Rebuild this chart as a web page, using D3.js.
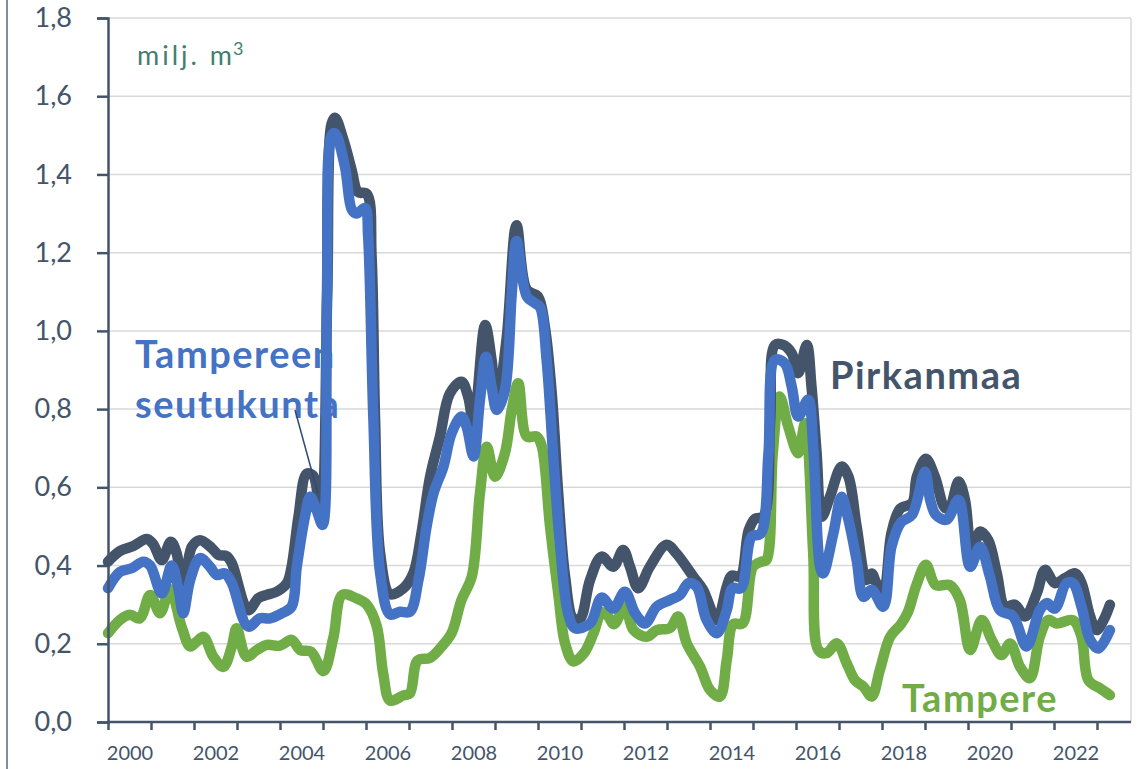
<!DOCTYPE html>
<html>
<head>
<meta charset="utf-8">
<title>Asuntokauppa Pirkanmaa</title>
<script src="https://d3js.org/d3.v7.min.js"></script>
<style>
  body { margin: 0; background: #fff; }
  svg { display: block; font-family: Lato, "Open Sans", sans-serif; }
</style>
</head>
<body>
<div id="chart"></div>
<script>
// values, [decimal year, milj. m3]
var pirkanmaa = [
  [2000.0,0.41],[2000.28,0.437],[2000.59,0.45],[2000.9,0.468],[2001.05,0.455],[2001.25,0.414],
  [2001.46,0.461],[2001.6,0.43],[2001.74,0.33],[2001.95,0.448],[2002.14,0.465],[2002.41,0.445],
  [2002.57,0.427],[2002.76,0.424],[2002.88,0.406],[2003.26,0.286],[2003.5,0.317],[2003.69,0.325],
  [2003.92,0.333],[2004.16,0.355],[2004.27,0.397],[2004.43,0.525],[2004.62,0.635],[2004.77,0.63],
  [2004.95,0.53],[2005.1,1.1],[2005.2,1.53],[2005.28,1.545],[2005.47,1.49],[2005.67,1.41],
  [2005.81,1.355],[2006.02,1.35],[2006.13,1.19],[2006.21,0.78],[2006.33,0.43],[2006.56,0.327],
  [2006.87,0.342],[2007.1,0.38],[2007.29,0.483],[2007.49,0.627],[2007.72,0.73],[2007.95,0.84],
  [2008.22,0.87],[2008.38,0.83],[2008.5,0.76],[2008.77,1.015],[2008.92,0.926],[2009.04,0.81],
  [2009.27,0.98],[2009.5,1.27],[2009.74,1.105],[2010.0,1.088],[2010.16,1.01],[2010.32,0.84],
  [2010.47,0.585],[2010.63,0.372],[2010.82,0.265],[2010.98,0.265],[2011.21,0.363],[2011.48,0.423],
  [2011.75,0.397],[2011.98,0.44],[2012.14,0.397],[2012.33,0.342],[2012.6,0.397],[2012.99,0.453],
  [2013.22,0.431],[2013.61,0.372],[2013.84,0.338],[2014.16,0.261],[2014.39,0.346],[2014.5,0.374],
  [2014.7,0.372],[2014.9,0.49],[2015.05,0.52],[2015.24,0.525],[2015.4,0.772],[2015.51,0.964],
  [2015.7,0.964],[2015.9,0.943],[2016.05,0.892],[2016.25,0.964],[2016.36,0.858],[2016.48,0.687],
  [2016.6,0.525],[2016.79,0.576],[2017.06,0.653],[2017.22,0.627],[2017.41,0.5],[2017.64,0.363],
  [2017.76,0.38],[2017.87,0.355],[2018.03,0.335],[2018.22,0.483],[2018.42,0.545],[2018.7,0.56],
  [2018.81,0.627],[2019.02,0.673],[2019.23,0.627],[2019.47,0.547],[2019.58,0.55],[2019.78,0.615],
  [2019.93,0.568],[2020.09,0.431],[2020.28,0.487],[2020.47,0.465],[2020.67,0.38],[2020.86,0.295],
  [2021.09,0.3],[2021.33,0.27],[2021.6,0.329],[2021.79,0.389],[2022.02,0.355],[2022.26,0.368],
  [2022.49,0.38],[2022.64,0.355],[2022.84,0.27],[2022.99,0.235],[2023.15,0.26],[2023.3,0.3]
];

var seutukunta = [
  [2000.0,0.342],[2000.28,0.384],[2000.55,0.393],[2000.82,0.41],[2000.98,0.4],[2001.25,0.329],
  [2001.48,0.4],[2001.64,0.34],[2001.75,0.278],[2001.91,0.363],[2002.14,0.419],[2002.37,0.397],
  [2002.53,0.376],[2002.72,0.38],[2002.88,0.355],[2003.26,0.244],[2003.53,0.265],[2003.77,0.265],
  [2004.04,0.278],[2004.27,0.295],[2004.39,0.397],[2004.58,0.525],[2004.7,0.576],[2004.85,0.542],
  [2004.99,0.504],[2005.09,1.086],[2005.2,1.5],[2005.28,1.505],[2005.51,1.42],[2005.67,1.31],
  [2005.78,1.3],[2005.98,1.314],[2006.05,1.24],[2006.17,0.78],[2006.33,0.38],[2006.56,0.275],
  [2006.79,0.282],[2007.02,0.282],[2007.22,0.363],[2007.41,0.5],[2007.57,0.585],[2007.8,0.653],
  [2007.99,0.738],[2008.22,0.781],[2008.34,0.755],[2008.5,0.679],[2008.65,0.824],[2008.79,0.934],
  [2008.92,0.858],[2009.04,0.798],[2009.23,0.849],[2009.39,1.096],[2009.5,1.23],[2009.74,1.088],
  [2009.93,1.071],[2010.05,1.06],[2010.2,0.926],[2010.36,0.67],[2010.51,0.457],[2010.7,0.278],
  [2010.86,0.24],[2011.21,0.252],[2011.48,0.318],[2011.75,0.29],[2012.02,0.333],[2012.26,0.278],
  [2012.49,0.252],[2012.76,0.295],[2013.07,0.312],[2013.3,0.325],[2013.5,0.355],[2013.69,0.346],
  [2013.92,0.261],[2014.16,0.227],[2014.39,0.286],[2014.52,0.342],[2014.72,0.342],[2014.97,0.474],
  [2015.18,0.482],[2015.36,0.687],[2015.51,0.926],[2015.74,0.917],[2015.9,0.858],[2016.05,0.781],
  [2016.28,0.824],[2016.4,0.704],[2016.56,0.397],[2016.63,0.38],[2016.87,0.483],[2017.06,0.576],
  [2017.22,0.517],[2017.41,0.414],[2017.57,0.32],[2017.76,0.338],[2018.03,0.295],[2018.22,0.448],
  [2018.44,0.51],[2018.7,0.53],[2019.0,0.64],[2019.12,0.568],[2019.25,0.53],[2019.5,0.517],
  [2019.78,0.568],[2020.05,0.397],[2020.28,0.448],[2020.51,0.372],[2020.74,0.286],[2021.05,0.27],
  [2021.36,0.193],[2021.67,0.286],[2021.83,0.304],[2022.02,0.29],[2022.29,0.355],[2022.44,0.355],
  [2022.64,0.295],[2022.84,0.21],[2023.03,0.188],[2023.3,0.235]
];

var tampere = [
  [2000.0,0.227],[2000.28,0.261],[2000.51,0.274],[2000.74,0.265],[2000.98,0.325],[2001.21,0.278],
  [2001.44,0.34],[2001.71,0.244],[2001.91,0.193],[2002.06,0.205],[2002.22,0.218],[2002.45,0.167],
  [2002.68,0.141],[2002.88,0.193],[2002.99,0.24],[2003.22,0.167],[2003.46,0.184],[2003.69,0.197],
  [2004.0,0.195],[2004.27,0.21],[2004.47,0.184],[2004.72,0.18],[2005.01,0.13],[2005.24,0.215],
  [2005.45,0.325],[2005.78,0.316],[2006.02,0.3],[2006.25,0.245],[2006.4,0.124],[2006.56,0.055],
  [2006.87,0.068],[2007.02,0.073],[2007.2,0.157],[2007.49,0.164],[2007.76,0.193],[2007.99,0.227],
  [2008.22,0.312],[2008.46,0.372],[2008.65,0.585],[2008.81,0.704],[2009.0,0.627],[2009.23,0.687],
  [2009.39,0.798],[2009.54,0.866],[2009.74,0.73],[2009.97,0.73],[2010.09,0.704],[2010.28,0.5],
  [2010.47,0.329],[2010.63,0.201],[2010.82,0.155],[2011.07,0.176],[2011.29,0.227],[2011.48,0.28],
  [2011.6,0.275],[2011.77,0.25],[2012.02,0.295],[2012.22,0.235],[2012.53,0.218],[2012.76,0.235],
  [2013.07,0.24],[2013.26,0.27],[2013.46,0.201],[2013.77,0.141],[2014.0,0.082],[2014.23,0.065],
  [2014.39,0.159],[2014.54,0.25],[2014.76,0.252],[2015.0,0.397],[2015.2,0.41],[2015.31,0.414],
  [2015.46,0.687],[2015.62,0.832],[2015.82,0.755],[2016.05,0.687],[2016.21,0.764],[2016.4,0.431],
  [2016.52,0.184],[2016.71,0.176],[2016.95,0.201],[2017.18,0.15],[2017.37,0.107],[2017.57,0.09],
  [2017.76,0.065],[2017.95,0.133],[2018.19,0.218],[2018.44,0.25],[2018.6,0.28],[2018.8,0.35],
  [2019.02,0.402],[2019.25,0.35],[2019.58,0.35],[2019.81,0.312],[2020.05,0.184],[2020.32,0.261],
  [2020.55,0.21],[2020.78,0.171],[2020.98,0.201],[2021.21,0.141],[2021.44,0.112],[2021.67,0.218],
  [2021.87,0.261],[2022.06,0.252],[2022.44,0.26],[2022.64,0.218],[2022.8,0.107],[2023.07,0.086],
  [2023.3,0.069]
];

var yTicks = [0, 0.2, 0.4, 0.6, 0.8, 1.0, 1.2, 1.4, 1.6, 1.8];
var yearTicks = d3.range(2000, 2024);
var yearLabels = [2000, 2002, 2004, 2006, 2008, 2010, 2012, 2014, 2016, 2018, 2020, 2022];

var width = 1142, height = 769;
var margin = { top: 18, left: 108, bottom: 47 };
var plotRight = 1131;

var axisColor = "#44546a";

var svg = d3.select("#chart").append("svg")
  .attr("width", width)
  .attr("height", height);

// frame line on the left edge
svg.append("line")
  .attr("x1", 7).attr("x2", 7).attr("y1", 0).attr("y2", height)
  .attr("stroke", "#5b6577").attr("stroke-width", 1.5);

var x = d3.scaleLinear()
  .domain([2000, 2023])
  .range([margin.left, 1097]);
var y = d3.scaleLinear()
  .domain([0, 1.8])
  .range([height - margin.bottom, margin.top]);

// gridlines
svg.append("g")
  .selectAll("line")
  .data(yTicks.slice(1))
  .enter().append("line")
  .attr("x1", margin.left).attr("x2", plotRight)
  .attr("y1", function(d) { return y(d); })
  .attr("y2", function(d) { return y(d); })
  .attr("stroke", "#d9d9d9").attr("stroke-width", 1.5);

svg.append("line")
  .attr("x1", plotRight).attr("x2", plotRight)
  .attr("y1", y(1.8)).attr("y2", y(0))
  .attr("stroke", "#d9d9d9").attr("stroke-width", 1.5);

// lines
var line = d3.line()
  .x(function(d) { return x(d[0]); })
  .y(function(d) { return y(d[1]); })
  .curve(d3.curveCatmullRom.alpha(0.5));

var series = [
  { name: "Tampere", values: tampere, color: "#70ad47" },
  { name: "Pirkanmaa", values: pirkanmaa, color: "#44546a" },
  { name: "Tampereen seutukunta", values: seutukunta, color: "#4472c4" }
];

svg.append("g")
  .selectAll("path")
  .data(series)
  .enter().append("path")
  .attr("d", function(d) { return line(d.values); })
  .attr("fill", "none")
  .attr("stroke", function(d) { return d.color; })
  .attr("stroke-width", 10.5)
  .attr("stroke-linejoin", "round")
  .attr("stroke-linecap", "round");

// y axis
var yAxis = svg.append("g")
  .attr("transform", "translate(" + margin.left + ",0)")
  .call(d3.axisLeft(y)
    .tickValues(yTicks)
    .tickSize(11)
    .tickPadding(25)
    .tickFormat(function(d) { return d3.format(".1f")(d).replace(".", ","); }));
yAxis.select(".domain").attr("stroke", axisColor).attr("stroke-width", 2.5);
yAxis.selectAll(".tick line").attr("stroke", axisColor).attr("stroke-width", 2.5);
yAxis.selectAll("text")
  .attr("fill", axisColor)
  .style("font-size", "27px")
  .style("font-family", "Lato, sans-serif");

// x axis: ticks on the year boundaries, labels in the middle of the year
var xAxis = svg.append("g")
  .attr("transform", "translate(0," + y(0) + ")")
  .call(d3.axisBottom(x)
    .tickValues(yearTicks)
    .tickSize(8)
    .tickSizeOuter(0)
    .tickFormat(""));
xAxis.select(".domain")
  .attr("d", "M" + margin.left + ",0H" + plotRight)
  .attr("stroke", axisColor).attr("stroke-width", 2.5);
xAxis.selectAll(".tick line").attr("stroke", axisColor).attr("stroke-width", 2.5);

var xLabels = svg.append("g")
  .attr("transform", "translate(0," + y(0) + ")")
  .call(d3.axisBottom(x)
    .tickValues(yearLabels.map(function(d) { return d + 0.5; }))
    .tickSize(0)
    .tickPadding(24)
    .tickFormat(function(d) { return Math.floor(d); }));
xLabels.select(".domain").remove();
xLabels.selectAll("text")
  .attr("fill", axisColor)
  .style("font-size", "20px")
  .style("font-family", "Lato, sans-serif");

// unit
var unit = svg.append("text")
  .attr("x", 137).attr("y", 65)
  .attr("fill", "#41806f")
  .style("font-size", "27px")
  .style("letter-spacing", "3px")
  .text("milj. m");
unit.append("tspan")
  .attr("dy", -10)
  .attr("dx", -2)
  .style("font-size", "18px")
  .text("3");

// series labels
var labelStyle = function(sel) {
  sel.style("font-size", "38px")
    .style("font-weight", "bold")
    .style("letter-spacing", "1.5px");
};

svg.append("text").attr("x", 135).attr("y", 368)
  .attr("fill", "#4472c4").call(labelStyle).text("Tampereen");
svg.append("text").attr("x", 135).attr("y", 418)
  .attr("fill", "#4472c4").call(labelStyle).text("seutukunta");
svg.append("line")
  .attr("x1", 295).attr("y1", 410)
  .attr("x2", x(2004.88)).attr("y2", y(0.585))
  .attr("stroke", "#2f4a78").attr("stroke-width", 1.5);

svg.append("text").attr("x", 830).attr("y", 389)
  .attr("fill", "#44546a").call(labelStyle).text("Pirkanmaa");
svg.append("text").attr("x", 902).attr("y", 712)
  .attr("fill", "#70ad47").call(labelStyle).text("Tampere");
</script>
</body>
</html>
